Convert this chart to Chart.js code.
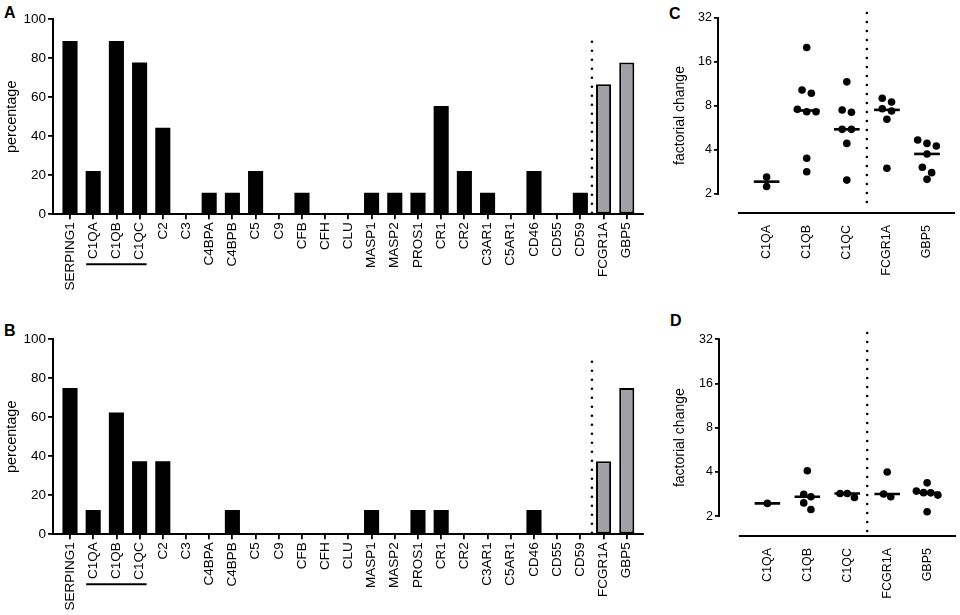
<!DOCTYPE html>
<html>
<head>
<meta charset="utf-8">
<script src="https://cdn.jsdelivr.net/npm/chart.js@4.4.0/dist/chart.umd.min.js"></script>
<style>
  html,body{margin:0;padding:0;background:#fff;}
  body{width:960px;height:615px;position:relative;overflow:hidden;font-family:"Liberation Sans",Arial,sans-serif;}
  canvas{position:absolute;}
  .panel{position:absolute;font-weight:bold;font-size:16px;line-height:16px;color:#000;}
</style>
</head>
<body>
<div class="panel" style="left:4px;top:5px;">A</div>
<div class="panel" style="left:4px;top:323px;">B</div>
<div class="panel" style="left:669px;top:6px;">C</div>
<div class="panel" style="left:670px;top:313px;">D</div>
<canvas id="cA" width="650" height="310" style="left:0;top:0;"></canvas>
<canvas id="cB" width="650" height="295" style="left:0;top:320px;"></canvas>
<canvas id="cC" width="300" height="300" style="left:660px;top:0;"></canvas>
<canvas id="cD" width="300" height="315" style="left:660px;top:300px;"></canvas>
<script>
// ---------------- data ----------------
const genes = ['SERPING1','C1QA','C1QB','C1QC','C2','C3','C4BPA','C4BPB','C5','C9','CFB','CFH','CLU',
               'MASP1','MASP2','PROS1','CR1','CR2','C3AR1','C5AR1','CD46','CD55','CD59','FCGR1A','GBP5'];
const pctA = [88.9,22.2,88.9,77.8,44.4,0,11.1,11.1,22.2,0,11.1,0,0,11.1,11.1,11.1,55.6,22.2,11.1,0,22.2,0,11.1,66.7,77.8];
const pctB = [75,12.5,62.5,37.5,37.5,0,0,12.5,0,0,0,0,0,12.5,0,12.5,12.5,0,0,0,12.5,0,0,37.5,75];
const grayGenes = ['FCGR1A','GBP5'];
const underlinedGenes = ['C1QA','C1QC'];
const pctTicks = [0,20,40,60,80,100];

const foldGroups = ['C1QA','C1QB','C1QC','FCGR1A','GBP5'];
const foldTicks = [2,4,8,16,32];
const foldC_C1QA   = [2.61,2.25];
const foldC_C1QB   = [20.1,10.3,9.78,7.59,7.31,7.31,3.51,2.84];
const foldC_C1QC   = [11.7,7.51,7.25,5.54,5.54,4.44,2.49];
const foldC_FCGR1A = [9.03,8.52,7.66,7.39,6.49,3.0];
const foldC_GBP5   = [4.68,4.44,4.26,3.76,3.05,2.80,2.52];
const foldD_C1QA   = [2.44];
const foldD_C1QB   = [4.07,2.81,2.71,2.46,2.22];
const foldD_C1QC   = [2.85,2.85,2.68];
const foldD_FCGR1A = [3.99,2.83,2.71];
const foldD_GBP5   = [3.37,2.96,2.89,2.88,2.78,2.14];

// ---------------- common ----------------
const FONT = '"Liberation Sans", Arial, sans-serif';
Chart.defaults.font.family = FONT;
Chart.defaults.color = '#000';
const GRAY = 'rgb(160,160,166)';

function median(a){const s=[...a].sort((p,q)=>p-q);const n=s.length;return n%2?s[(n-1)/2]:(s[n/2-1]+s[n/2])/2;}

// simple row-based swarm: points close in y are spread symmetrically in x
function swarmOffsets(vals, pxPerOct, rowPx, stepPx, pxPerCat){
  const idx = vals.map((v,i)=>i).sort((a,b)=>vals[b]-vals[a]);
  const offs = new Array(vals.length).fill(0);
  let i=0;
  while(i<idx.length){
    const y0 = Math.log2(vals[idx[i]])*pxPerOct;
    let j=i+1;
    while(j<idx.length && y0 - Math.log2(vals[idx[j]])*pxPerOct < rowPx) j++;
    const n=j-i;
    for(let k=0;k<n;k++) offs[idx[i+k]] = (k-(n-1)/2)*stepPx/pxPerCat;
    i=j;
  }
  return offs;
}

// ---------------- bar panels (A, B) ----------------
const bracketPlugin = {
  id:'bracket',
  afterDraw(chart, args, opts){
    const x = chart.scales.x, ctx = chart.ctx;
    const y = chart.chartArea.bottom + opts.dy;
    const i0 = genes.indexOf(underlinedGenes[0]), i1 = genes.indexOf(underlinedGenes[1]);
    ctx.save(); ctx.strokeStyle='#000'; ctx.lineWidth=2;
    ctx.beginPath();
    ctx.moveTo(x.getPixelForValue(i0)-7, y);
    ctx.lineTo(x.getPixelForValue(i1)+7, y);
    ctx.stroke(); ctx.restore();
  }
};

function buildBar(id, values, xAxisHeight){
  const ctx = document.getElementById(id);
  return new Chart(ctx, {
    type:'bar',
    data:{
      datasets:[
        {
          type:'bar',
          data: genes.map((g,i)=>({x:i, y:values[i]})),
          backgroundColor: genes.map(g=>grayGenes.includes(g)?GRAY:'#000'),
          borderColor:'#000',
          borderWidth: genes.map(g=>grayGenes.includes(g)?2:0),
          borderSkipped:false,
          barPercentage:0.65,
          categoryPercentage:1.0,
          order:2
        },
        {
          type:'line',
          data:[{x:22.5,y:0.8},{x:22.5,y:90}],
          borderColor:'#000',
          borderWidth:2.6,
          borderDash:[0,9],
          borderCapStyle:'round',
          pointRadius:0,
          fill:false,
          order:1
        }
      ]
    },
    options:{
      responsive:false, animation:false, devicePixelRatio:1,
      layout:{padding:{top:19.3,right:7,left:0,bottom:0}},
      plugins:{legend:{display:false}, tooltip:{enabled:false}, bracket:{dy:50}},
      scales:{
        x:{
          type:'linear', min:-0.733, max:24.70, offset:false,
          afterBuildTicks:s=>{s.ticks = genes.map((g,i)=>({value:i}));},
          afterFit:s=>{s.height = xAxisHeight;},
          ticks:{autoSkip:false, minRotation:90, maxRotation:90, padding:3,
                 font:{size:13.5}, color:'#000',
                 callback:(v,i)=>genes[i]},
          grid:{display:true, drawOnChartArea:false, drawTicks:true, tickLength:5, color:'#000', lineWidth:1.8, offset:false},
          border:{display:true, color:'#000', width:2}
        },
        y:{
          type:'linear', min:0, max:100,
          afterBuildTicks:s=>{s.ticks = pctTicks.map(v=>({value:v}));},
          afterFit:s=>{s.width = 53;},
          ticks:{font:{size:13.5}, color:'#000', padding:2},
          grid:{display:true, drawOnChartArea:false, drawTicks:true, tickLength:5, color:'#000', lineWidth:1.8},
          border:{display:true, color:'#000', width:2},
          title:{display:true, text:'percentage', font:{size:14.5}, color:'#000', padding:{top:3,bottom:4}}
        }
      }
    },
    plugins:[bracketPlugin]
  });
}

buildBar('cA', pctA, 310-214.3);
buildBar('cB', pctB, 295-214.3);

// ---------------- fold-change panels (C, D) ----------------
const foldAxesPlugin = {
  id:'foldAxes',
  afterDraw(chart, args, opts){
    const {ctx, chartArea, scales:{x,y}} = chart;
    ctx.save(); ctx.strokeStyle='#000'; ctx.lineWidth=2;
    ctx.beginPath();
    ctx.moveTo(chartArea.left, y.getPixelForValue(foldTicks[foldTicks.length-1])-1);
    ctx.lineTo(chartArea.left, y.getPixelForValue(foldTicks[0])+1);
    ctx.moveTo(x.getPixelForValue(opts.xStart), chartArea.bottom);
    ctx.lineTo(chartArea.right, chartArea.bottom);
    ctx.stroke(); ctx.restore();
  }
};

function buildFold(id, groupsData, cfg){
  const pxPerCat = cfg.pxPerCat;
  const dots = [];
  groupsData.forEach((vals,gi)=>{
    const offs = swarmOffsets(vals, cfg.pxPerOct, 7, cfg.stepPx, pxPerCat);
    vals.forEach((v,k)=>dots.push({x:gi+offs[k], y:v}));
  });
  const datasets = [{
    type:'scatter', data:dots, pointRadius:3.8, pointBackgroundColor:'#000',
    pointBorderWidth:0, showLine:false, order:1
  }];
  groupsData.forEach((vals,gi)=>{
    const m = median(vals);
    datasets.push({type:'line', data:[{x:gi-0.32,y:m},{x:gi+0.32,y:m}],
      borderColor:'#000', borderWidth:2.6, pointRadius:0, fill:false, order:2});
  });
  datasets.push({type:'line', data:[{x:2.5,y:cfg.dotTop},{x:2.5,y:cfg.dotBottom}],
    borderColor:'#000', borderWidth:2.6, borderDash:[0,9], borderCapStyle:'round',
    pointRadius:0, fill:false, clip:false, order:3});

  return new Chart(document.getElementById(id), {
    type:'scatter',
    data:{datasets},
    options:{
      responsive:false, animation:false, devicePixelRatio:1,
      layout:{padding:{top:cfg.top, right:cfg.right, left:0, bottom:0}},
      plugins:{legend:{display:false}, tooltip:{enabled:false}, foldAxes:{xStart:cfg.xStart}},
      scales:{
        x:{
          type:'linear', min:cfg.xMin, max:cfg.xMax, offset:false,
          afterBuildTicks:s=>{s.ticks = foldGroups.map((g,i)=>({value:i}));},
          afterFit:s=>{s.height = cfg.xAxisHeight;},
          ticks:{autoSkip:false, minRotation:90, maxRotation:90, padding:3,
                 font:{size:12.5}, color:'#000', callback:(v,i)=>foldGroups[i]},
          grid:{display:true, drawOnChartArea:false, drawTicks:true, tickLength:9, color:'rgba(0,0,0,0)'},
          border:{display:false}
        },
        y:{
          type:'logarithmic', min:cfg.yMin, max:32,
          afterBuildTicks:s=>{s.ticks = foldTicks.map(v=>({value:v}));},
          afterFit:s=>{s.width = cfg.yAxisWidth;},
          ticks:{font:{size:12.5}, color:'#000', padding:2, callback:v=>String(v)},
          grid:{display:true, drawOnChartArea:false, drawTicks:true, tickLength:4, color:'#000', lineWidth:1.8},
          border:{display:false},
          title:{display:true, text:'factorial change', font:{size:14}, color:'#000', padding:{top:12,bottom:4}}
        }
      }
    },
    plugins:[foldAxesPlugin]
  });
}

const foldC = [foldC_C1QA, foldC_C1QB, foldC_C1QC, foldC_FCGR1A, foldC_GBP5];
const foldD = [foldD_C1QA, foldD_C1QB, foldD_C1QC, foldD_FCGR1A, foldD_GBP5];

buildFold('cC', foldC, {
  top:18, right:5, yAxisWidth:58, xAxisHeight:300-213,
  yMin:32/Math.pow(2,195/44), pxPerOct:44, pxPerCat:40.1, stepPx:9.3,
  xMin:-1.212, xMax:4.698, xStart:-0.714, dotTop:34.6, dotBottom:1.555
});
buildFold('cD', foldD, {
  top:39.3, right:3, yAxisWidth:59, xAxisHeight:315-236,
  yMin:32/Math.pow(2,196.7/44.2), pxPerOct:44.2, pxPerCat:40.1, stepPx:7.2,
  xMin:-1.212, xMax:4.723, xStart:-0.714, dotTop:35.3, dotBottom:1.556
});
</script>
</body>
</html>
